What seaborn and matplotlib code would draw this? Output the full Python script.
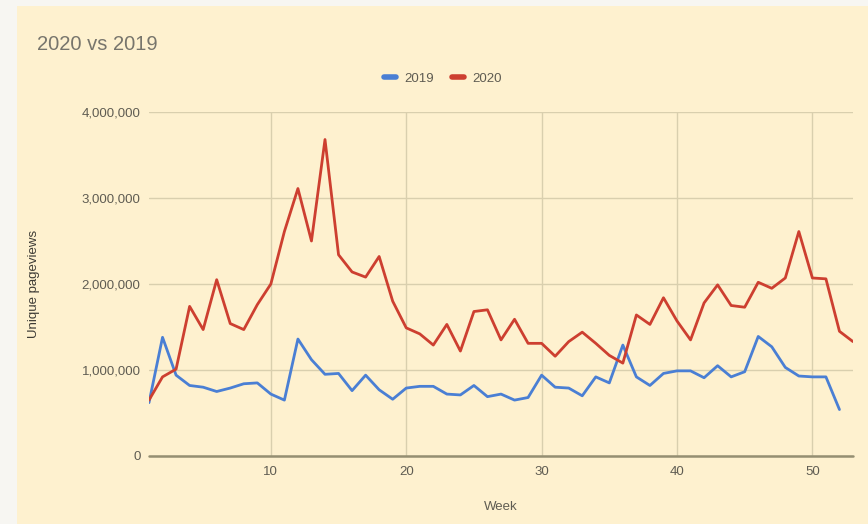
import numpy as np
import pandas as pd
import matplotlib.pyplot as plt
import matplotlib.ticker as mticker
import seaborn as sns
from matplotlib.patches import Rectangle
from matplotlib.lines import Line2D

# weekly unique pageviews
weeks_2019 = list(range(1, 53))
views_2019 = [620000, 1380000, 940000, 820000, 800000, 750000, 790000, 840000, 850000, 720000,
              650000, 1360000, 1120000, 950000, 960000, 760000, 940000, 770000, 660000, 790000,
              810000, 810000, 720000, 710000, 820000, 690000, 720000, 650000, 680000, 940000,
              800000, 790000, 700000, 920000, 850000, 1290000, 920000, 820000, 960000, 990000,
              990000, 910000, 1050000, 920000, 980000, 1390000, 1270000, 1030000, 930000, 920000,
              920000, 540000]

weeks_2020 = list(range(1, 54))
views_2020 = [650000, 920000, 1010000, 1740000, 1470000, 2050000, 1540000, 1470000, 1760000, 2000000,
              2610000, 3110000, 2500000, 3680000, 2340000, 2140000, 2080000, 2320000, 1800000, 1490000,
              1420000, 1290000, 1530000, 1220000, 1680000, 1700000, 1350000, 1590000, 1310000, 1310000,
              1160000, 1330000, 1440000, 1310000, 1170000, 1080000, 1640000, 1530000, 1840000, 1570000,
              1350000, 1780000, 1990000, 1750000, 1730000, 2020000, 1950000, 2070000, 2610000, 2070000,
              2060000, 1450000, 1330000]

df = pd.concat([
    pd.DataFrame({"Week": weeks_2019, "Views": views_2019, "Year": "2019"}),
    pd.DataFrame({"Week": weeks_2020, "Views": views_2020, "Year": "2020"}),
])

bg = "#fef1cf"
blue, red = "#4a7fd4", "#cd3f30"
sns.set_theme(style="white")
plt.rcParams['font.family'] = ['Liberation Sans', 'DejaVu Sans']

fig = plt.figure(figsize=(8.68, 5.24), dpi=100, facecolor="#f7f6f2")
# card background
fig.patches.append(Rectangle((17 / 868, 0), 1 - 17 / 868, 1 - 6 / 524, transform=fig.transFigure,
                             facecolor=bg, edgecolor="none", zorder=-5))

ax = fig.add_axes([149 / 868, 1 - 456 / 524, (853 - 149) / 868, (456 - 112) / 524])
ax.set_facecolor(bg)

sns.lineplot(data=df, x="Week", y="Views", hue="Year", palette={"2019": blue, "2020": red},
             linewidth=2, ax=ax, legend=False, zorder=3)

ax.set_xlim(1, 53)
ax.set_ylim(0, 4000000)
ax.set_xticks([10, 20, 30, 40, 50])
ax.set_yticks([0, 1000000, 2000000, 3000000, 4000000])
ax.yaxis.set_major_formatter(mticker.FuncFormatter(lambda v, p: f"{int(v):,}"))
ax.grid(True, color="#d9cfae", linewidth=1)
for s in ax.spines.values():
    s.set_visible(False)
ax.axhline(0, color="#958f72", linewidth=1.8, zorder=2, clip_on=False)
ax.tick_params(axis="both", length=0, labelsize=9.5, colors="#5f5c52")
ax.tick_params(axis="y", pad=6)
ax.tick_params(axis="x", pad=7)

ax.set_xlabel("Week", fontsize=9.5, color="#5f5c52", labelpad=17)
ax.set_ylabel("Unique pageviews", fontsize=9.5, color="#3d3b35", labelpad=30)

fig.text(37 / 868, 1 - 45 / 524, "2020 vs 2019", fontsize=14.5, color="#77756c", va="center")

# legend
handles = [Line2D([], [], color=blue, linewidth=4), Line2D([], [], color=red, linewidth=4)]
fig.legend(handles, ["2019", "2020"], loc="center", bbox_to_anchor=(443 / 868, 1 - 79 / 524), ncol=2,
           frameon=False, fontsize=9.5, handlelength=0.9, columnspacing=1.4, handletextpad=0.6,
           labelcolor="#5f5c52")

fig.savefig("out.png", dpi=100, facecolor=fig.get_facecolor())
